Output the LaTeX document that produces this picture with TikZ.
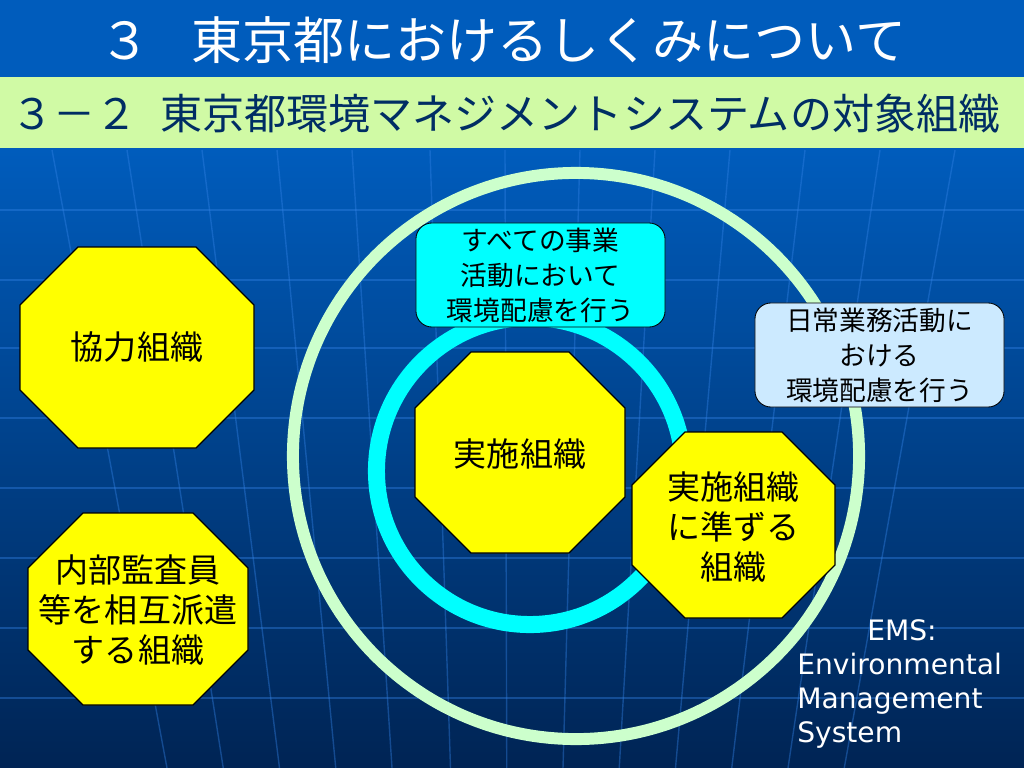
\documentclass[tikz,border=0pt]{standalone}
\usepackage{fontspec}
\setmainfont{Noto Sans CJK JP}
\newfontfamily\emsfont{DejaVu Sans}
\definecolor{colTop}{RGB}{0,92,188}
\definecolor{colBot}{RGB}{0,36,84}
\definecolor{colGrid}{RGB}{50,130,230}
\definecolor{colBand}{RGB}{208,250,165}
\definecolor{colNavy}{RGB}{0,45,100}
\definecolor{colMint}{RGB}{204,255,204}
\definecolor{colCyan}{RGB}{0,255,255}
\definecolor{colPale}{RGB}{204,234,255}
\definecolor{colYellow}{RGB}{255,255,0}
\tikzstyle{gridline}=[colGrid, line width=1pt, opacity=0.4]
\tikzstyle{octa}=[draw=black, line width=0.8pt, fill=colYellow]
\tikzstyle{octaText}=[inner sep=0pt, align=center, font=\fontsize{23.5}{28.4}\selectfont]
\tikzstyle{memo}=[rectangle, rounded corners=0.4cm, draw=black, line width=0.6pt, inner sep=0pt, align=center, minimum width=6.225cm, minimum height=2.6cm, font=\fontsize{19}{24.9}\selectfont]
% octagon: centre x, centre y, half width, half height, corner cut
\newcommand{\octpath}[5]{%
	\filldraw[octa] ({#1-#3+#5},{#2-#4}) -- ({#1+#3-#5},{#2-#4}) -- ({#1+#3},{#2-#4+#5})
		-- ({#1+#3},{#2+#4-#5}) -- ({#1+#3-#5},{#2+#4}) -- ({#1-#3+#5},{#2+#4})
		-- ({#1-#3},{#2+#4-#5}) -- ({#1-#3},{#2-#4+#5}) -- cycle;}

\begin{document}
\begin{tikzpicture}[x=0.025cm, y=-0.025cm]
			\useasboundingbox (0,0) rectangle (1024,768);
			%%% Background
			\fill[colTop] (0,0) rectangle (1024,150);
			\shade[top color=colTop, bottom color=colBot] (0,150) rectangle (1024,768);
			% grid
			\foreach \y in {210,280,348,418,488,558,628,698}
				\draw[gridline] (0,\y) -- (1024,\y);
			\foreach \x in {52,127,202,277,352,430,505,580,655,730,805,880,955}
				\draw[gridline] (\x,150) -- ({512+(\x-512)*0.75},768);

			%%% Headings
			\fill[colBand] (0,77) rectangle (1024,148);
			\node[white, font=\fontsize{36.3}{40}\selectfont] (title) at (503,40) {３\hspace{0.8em}東京都におけるしくみについて};
			\node[colNavy, anchor=west, inner sep=0pt, font=\fontsize{29.9}{34}\selectfont] (subtitle) at (11,114) {３－２\hspace{0.55em}東京都環境マネジメントシステムの対象組織};

			%%% Circles
			\draw[colMint, line width=8.5pt] (576,456) circle [radius=7.075cm];
			\draw[colCyan, line width=12.1pt] (530,471) circle [radius=3.8375cm];

			%%% Left
			\octpath{137}{347.5}{117}{100.5}{58}
			\node[octaText] (coop) at (137,347.5) {協力組織};
			\octpath{138}{609}{110}{96}{55}
			\node[octaText] (audit) at (138,610) {内部監査員\\等を相互派遣\\する組織};

			%%% Center
			\node[memo, fill=colCyan] (allwork) at (540.5,275) {すべての事業\\活動において\\環境配慮を行う};
			\octpath{520}{452.5}{105}{100.5}{56}
			\node[octaText] (main) at (520,454) {実施組織};

			%%% Right
			\node[memo, fill=colPale] (daily) at (879.5,355) {日常業務活動に\\おける\\環境配慮を行う};
			\octpath{733.5}{525}{101.5}{93}{53}
			\node[octaText] (quasi) at (733.5,527) {実施組織\\に準ずる\\組織};
			\node[white, anchor=west, inner sep=0pt, align=left, font=\emsfont\fontsize{20}{24.2}\selectfont] (ems) at (797,684) {\hspace*{1.75cm}EMS:\\Environmental\\Management\\System};
		\end{tikzpicture}
\end{document}
